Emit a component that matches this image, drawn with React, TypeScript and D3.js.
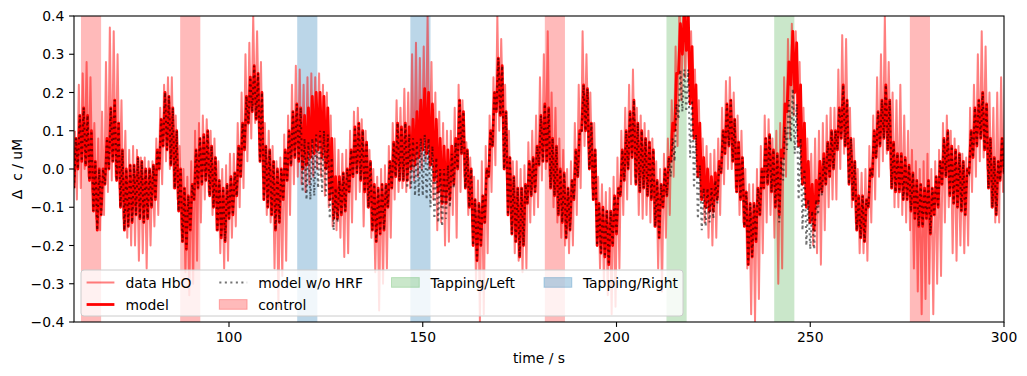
import React from 'react';
import * as d3 from 'd3';

// per-second samples starting at t = 60 s (upper / lower excursion of each cardiac cycle)
const T0 = 60;
const modelHi = [
  0.08, 0.14, 0.16, 0.14, 0.10, 0.02, 0.00, 0.00, 0.08, 0.16,
  0.18, 0.12, 0.05, 0.00, 0.01, 0.01, 0.03, 0.02, 0.00, 0.00,
  0.01, 0.05, 0.13, 0.20, 0.19, 0.16, 0.10, 0.00, -0.05, -0.07,
  -0.04, 0.05, 0.08, 0.09, 0.10, 0.06, 0.03, -0.03, -0.05, -0.04,
  -0.02, -0.01, 0.06, 0.12, 0.19, 0.24, 0.27, 0.25, 0.20, 0.06,
  0.05, 0.02, 0.00, 0.00, 0.05, 0.10, 0.15, 0.17, 0.16, 0.14,
  0.16, 0.19, 0.20, 0.20, 0.19, 0.16, 0.08, -0.02, -0.02, -0.01,
  0.00, 0.05, 0.11, 0.12, 0.10, 0.07, 0.02, -0.04, -0.05, -0.04,
  -0.04, 0.02, 0.07, 0.12, 0.11, 0.12, 0.11, 0.13, 0.15, 0.18,
  0.21, 0.20, 0.17, 0.13, 0.08, 0.06, 0.05, 0.06, 0.08, 0.18,
  0.15, 0.05, 0.00, -0.08, -0.09, -0.07, 0.00, 0.10, 0.20, 0.29,
  0.27, 0.15, 0.03, -0.02, -0.05, -0.05, -0.04, 0.02, 0.03, 0.06,
  0.14, 0.17, 0.16, 0.08, 0.06, 0.00, -0.01, -0.05, -0.03, 0.05,
  0.10, 0.22, 0.21, 0.12, 0.05, -0.09, -0.10, -0.11, -0.11, -0.07,
  -0.05, 0.05, 0.10, 0.15, 0.18, 0.12, 0.10, 0.08, 0.07, 0.05,
  -0.03, -0.04, 0.00, 0.03, 0.12, 0.25, 0.38, 0.41, 0.42, 0.32,
  0.22, 0.12, 0.03, 0.00, -0.02, -0.01, 0.02, 0.10, 0.17, 0.18,
  0.13, 0.07, 0.03, -0.06, -0.09, -0.09, -0.05, 0.00, 0.08, 0.09,
  0.05, 0.04, 0.05, 0.17, 0.28, 0.36, 0.33, 0.22, 0.12, 0.02,
  -0.04, -0.03, 0.02, 0.04, 0.07, 0.10, 0.10, 0.16, 0.22, 0.18,
  0.08, 0.02, -0.07, -0.07, -0.08, 0.00, 0.10, 0.15, 0.18, 0.22,
  0.18, 0.07, 0.04, 0.04, 0.03, 0.01, -0.01, -0.03, -0.04, -0.05,
  -0.03, -0.05, -0.02, 0.02, 0.08, 0.10, 0.06, 0.05, 0.04, 0.02,
  0.00, 0.10, 0.16, 0.18, 0.20, 0.17, 0.08, 0.03, 0.02, 0.08,
  0.09
];
const modelLo = [
  -0.05, 0.00, 0.02, 0.01, -0.03, -0.11, -0.16, -0.12, -0.04, 0.00,
  0.02, -0.03, -0.10, -0.16, -0.15, -0.14, -0.12, -0.13, -0.14, -0.13,
  -0.10, -0.08, 0.00, 0.06, 0.05, 0.01, -0.05, -0.11, -0.19, -0.21,
  -0.16, -0.08, -0.05, -0.04, -0.03, -0.07, -0.10, -0.16, -0.18, -0.19,
  -0.13, -0.12, -0.07, -0.02, 0.05, 0.12, 0.15, 0.13, 0.02, -0.08,
  -0.10, -0.12, -0.16, -0.14, -0.08, -0.03, 0.01, 0.03, 0.02, 0.00,
  0.01, 0.03, 0.04, 0.05, 0.03, 0.00, -0.08, -0.13, -0.13, -0.12,
  -0.11, -0.06, -0.02, -0.01, -0.03, -0.06, -0.10, -0.16, -0.19, -0.17,
  -0.16, -0.10, -0.05, -0.02, -0.03, -0.03, -0.03, 0.00, 0.01, 0.03,
  0.05, 0.04, 0.01, -0.03, -0.06, -0.09, -0.09, -0.08, -0.04, 0.00,
  0.04, -0.05, -0.10, -0.20, -0.24, -0.20, -0.14, -0.02, 0.06, 0.15,
  0.14, 0.00, -0.12, -0.17, -0.19, -0.23, -0.20, -0.09, -0.07, -0.06,
  0.01, 0.02, 0.02, -0.05, -0.07, -0.12, -0.14, -0.18, -0.16, -0.08,
  -0.02, 0.10, 0.10, 0.00, -0.08, -0.20, -0.22, -0.23, -0.25, -0.20,
  -0.17, -0.07, -0.03, 0.00, 0.03, -0.04, -0.06, -0.05, -0.07, -0.08,
  -0.15, -0.18, -0.10, -0.07, 0.02, 0.10, 0.25, 0.30, 0.31, 0.17,
  0.08, -0.02, -0.08, -0.10, -0.11, -0.11, -0.08, -0.01, 0.04, 0.06,
  0.02, -0.06, -0.08, -0.15, -0.25, -0.23, -0.19, -0.12, -0.05, -0.04,
  -0.06, -0.10, -0.12, 0.03, 0.15, 0.22, 0.20, 0.06, -0.04, -0.10,
  -0.14, -0.16, -0.09, -0.06, -0.04, -0.02, 0.00, 0.05, 0.08, 0.06,
  -0.04, -0.08, -0.16, -0.18, -0.19, -0.10, -0.02, 0.03, 0.06, 0.08,
  0.05, -0.05, -0.06, -0.06, -0.08, -0.08, -0.11, -0.13, -0.15, -0.15,
  -0.13, -0.17, -0.12, -0.10, -0.04, -0.02, -0.07, -0.09, -0.10, -0.11,
  -0.12, -0.01, 0.03, 0.06, 0.08, 0.05, -0.05, -0.10, -0.12, -0.03,
  -0.01
];
const dataHi = [
  0.10, 0.22, 0.25, 0.28, 0.24, 0.12, 0.08, 0.15, 0.28, 0.37,
  0.36, 0.30, 0.18, 0.10, 0.05, 0.06, 0.05, 0.03, 0.03, 0.02,
  0.02, 0.08, 0.16, 0.22, 0.24, 0.24, 0.14, 0.06, 0.00, -0.02,
  0.02, 0.10, 0.12, 0.14, 0.13, 0.10, 0.08, 0.02, 0.00, 0.01,
  0.04, 0.04, 0.12, 0.20, 0.30, 0.33, 0.40, 0.36, 0.28, 0.12,
  0.10, 0.06, 0.02, 0.03, 0.09, 0.14, 0.22, 0.27, 0.26, 0.22,
  0.24, 0.25, 0.24, 0.25, 0.22, 0.20, 0.14, 0.08, 0.05, 0.04,
  0.05, 0.10, 0.15, 0.16, 0.13, 0.10, 0.05, 0.00, -0.02, 0.00,
  0.01, 0.06, 0.12, 0.18, 0.16, 0.21, 0.20, 0.30, 0.33, 0.29,
  0.32, 0.40, 0.28, 0.20, 0.15, 0.12, 0.10, 0.10, 0.16, 0.22,
  0.18, 0.07, 0.03, -0.02, -0.03, 0.02, 0.06, 0.14, 0.24, 0.40,
  0.34, 0.22, 0.10, 0.02, 0.02, 0.00, 0.01, 0.07, 0.10, 0.14,
  0.24, 0.30, 0.36, 0.20, 0.16, 0.08, 0.05, 0.00, 0.02, 0.12,
  0.22, 0.36, 0.30, 0.20, 0.12, -0.02, -0.04, -0.06, -0.05, -0.02,
  0.03, 0.10, 0.16, 0.22, 0.26, 0.16, 0.14, 0.12, 0.10, 0.08,
  0.02, 0.00, 0.04, 0.08, 0.18, 0.32, 0.45, 0.45, 0.44, 0.36,
  0.26, 0.18, 0.08, 0.06, 0.04, 0.05, 0.08, 0.16, 0.23, 0.24,
  0.20, 0.14, 0.10, 0.00, -0.04, -0.04, 0.00, 0.06, 0.14, 0.13,
  0.08, 0.10, 0.12, 0.24, 0.34, 0.38, 0.36, 0.28, 0.16, 0.08,
  0.04, 0.08, 0.10, 0.12, 0.14, 0.16, 0.16, 0.26, 0.35, 0.34,
  0.16, 0.08, 0.00, -0.01, 0.00, 0.06, 0.14, 0.24, 0.30, 0.40,
  0.28, 0.20, 0.18, 0.22, 0.14, 0.10, 0.05, 0.02, 0.00, 0.02,
  0.04, 0.00, 0.02, 0.05, 0.12, 0.14, 0.10, 0.08, 0.06, 0.04,
  0.03, 0.16, 0.22, 0.30, 0.36, 0.32, 0.20, 0.16, 0.20, 0.24,
  0.22
];
const dataLo = [
  -0.08, -0.05, 0.00, -0.02, -0.06, -0.13, -0.16, -0.12, -0.06, -0.03,
  -0.02, -0.05, -0.13, -0.18, -0.20, -0.20, -0.24, -0.22, -0.26, -0.20,
  -0.15, -0.12, -0.04, 0.02, 0.00, -0.05, -0.08, -0.16, -0.27, -0.33,
  -0.30, -0.24, -0.14, -0.08, -0.06, -0.12, -0.16, -0.22, -0.26, -0.24,
  -0.18, -0.15, -0.10, -0.05, 0.02, 0.08, 0.12, 0.10, -0.02, -0.12,
  -0.14, -0.26, -0.36, -0.28, -0.24, -0.12, -0.04, -0.02, -0.04, -0.06,
  -0.04, -0.02, 0.00, -0.02, -0.07, -0.10, -0.15, -0.16, -0.18, -0.23,
  -0.22, -0.14, -0.08, -0.06, -0.15, -0.10, -0.18, -0.27, -0.37, -0.30,
  -0.26, -0.18, -0.08, -0.06, -0.05, -0.06, -0.05, -0.03, -0.02, 0.00,
  0.02, 0.00, -0.08, -0.16, -0.14, -0.20, -0.19, -0.12, -0.18, -0.06,
  -0.02, -0.12, -0.14, -0.30, -0.40, -0.38, -0.22, -0.06, 0.01, 0.10,
  0.11, -0.04, -0.14, -0.22, -0.24, -0.27, -0.26, -0.14, -0.12, -0.10,
  -0.03, 0.00, -0.02, -0.10, -0.14, -0.18, -0.20, -0.22, -0.20, -0.12,
  -0.05, 0.06, 0.06, -0.05, -0.12, -0.26, -0.30, -0.33, -0.38, -0.36,
  -0.26, -0.12, -0.08, -0.04, -0.02, -0.12, -0.13, -0.12, -0.14, -0.15,
  -0.26, -0.32, -0.18, -0.12, -0.02, 0.06, 0.18, 0.24, 0.22, 0.10,
  0.02, -0.08, -0.14, -0.18, -0.20, -0.18, -0.12, -0.04, 0.00, 0.00,
  -0.05, -0.12, -0.14, -0.26, -0.38, -0.40, -0.34, -0.22, -0.14, -0.12,
  -0.18, -0.30, -0.26, -0.02, 0.08, 0.14, 0.12, -0.02, -0.08, -0.14,
  -0.20, -0.22, -0.25, -0.16, -0.10, -0.08, -0.08, 0.00, 0.04, 0.02,
  -0.10, -0.14, -0.22, -0.22, -0.24, -0.14, -0.08, -0.02, 0.02, 0.04,
  0.00, -0.10, -0.10, -0.12, -0.14, -0.16, -0.26, -0.32, -0.38, -0.34,
  -0.30, -0.38, -0.30, -0.28, -0.14, -0.10, -0.22, -0.24, -0.20, -0.22,
  -0.20, -0.06, -0.02, 0.02, 0.03, 0.00, -0.10, -0.14, -0.14, -0.06,
  -0.08
];

// difference between the model and the model without HRF, per second, in the four tapping windows
const hrfStarts = [118, 146, 213, 241];
const hrfRight1 = [0.00, 0.06, 0.09, 0.11, 0.11, 0.10, 0.09, 0.07, 0.05, 0.03, 0.01];
const hrfRight2 = [0.02, 0.05, 0.08, 0.10, 0.12, 0.12, 0.11, 0.10, 0.08, 0.06, 0.04, 0.02, 0.01];
const hrfLeft1 = [0.00, 0.04, 0.08, 0.12, 0.15, 0.16, 0.14, 0.13, 0.11, 0.08, 0.05, 0.03, 0.02, 0.01];
const hrfLeft2 = [0.00, 0.02, 0.06, 0.10, 0.15, 0.16, 0.14, 0.12, 0.10, 0.07, 0.05, 0.03, 0.01];

const controlSpans = [[61.8, 67.0], [87.4, 92.6], [181.5, 186.7], [275.7, 280.9]];
const tapLeftSpans = [[212.9, 218.1], [240.7, 245.9]];
const tapRightSpans = [[117.6, 122.8], [146.8, 152.0]];

const xTicks = [100, 150, 200, 250, 300];
const yTicks = [-0.4, -0.3, -0.2, -0.1, 0.0, 0.1, 0.2, 0.3, 0.4];

const W = 1027;
const H = 376;
const L = 74, R = 1004, TOP = 16, BOT = 322;
const FONT = "'DejaVu Sans', sans-serif";
const FS = 13.9;

export default function App() {
  const x = d3.scaleLinear().domain([60, 300]).range([L, R]);
  const y = d3.scaleLinear().domain([-0.4, 0.4]).range([BOT, TOP]);

  const hrfSegs = [hrfRight1, hrfRight2, hrfLeft1, hrfLeft2];
  const offset = new Map<number, number>();
  hrfSegs.forEach((seg, k) => seg.forEach((v, j) => offset.set(hrfStarts[k] + j, v)));

  const modelPts: [number, number][] = [];
  const noHrfPts: [number, number][] = [];
  const dataPts: [number, number][] = [];
  modelHi.forEach((hi, i) => {
    const t = T0 + i;
    const lo = modelLo[i];
    const o = offset.get(t) ?? 0;
    modelPts.push([t, lo], [t + 0.5, hi]);
    noHrfPts.push([t, lo - o], [t + 0.5, hi - o]);
    dataPts.push([t + 0.25, dataHi[i]], [t + 0.75, dataLo[i]]);
  });

  const line = d3.line<[number, number]>().x(d => x(d[0])).y(d => y(d[1]));
  const fmt = (v: number) => (v < 0 ? '\u2212' : '') + Math.abs(v).toFixed(1);

  const spans = [
    ...controlSpans.map(s => ({ s, c: 'red', o: 0.27 })),
    ...tapLeftSpans.map(s => ({ s, c: '#2ca02c', o: 0.25 })),
    ...tapRightSpans.map(s => ({ s, c: '#1f77b4', o: 0.3 })),
  ];

  // legend geometry
  const lgX = 81, lgY = 270, lgW = 602, lgH = 46;
  const row1 = 282.5, row2 = 304.5;
  const hx = [86.6, 219.3, 391.5, 544];
  const hl = 27.8;
  const tx = (i: number) => hx[i] + hl + 11.1;

  return (
    <svg width={W} height={H} style={{ position: 'absolute', left: 0, top: 0, background: '#fff' }}
      fontFamily={FONT}>
      <defs>
        <clipPath id="plot"><rect x={L} y={TOP} width={R - L} height={BOT - TOP} /></clipPath>
      </defs>
      <rect x={0} y={0} width={W} height={H} fill="#fff" />
      <g clipPath="url(#plot)">
        {spans.map((d, i) => (
          <rect key={i} x={x(d.s[0])} y={TOP} width={x(d.s[1]) - x(d.s[0])} height={BOT - TOP}
            fill={d.c} fillOpacity={d.o} />
        ))}
        <path d={line(dataPts) || ''} fill="none" stroke="red" strokeOpacity={0.5} strokeWidth={2} strokeLinejoin="round" />
        <path d={line(modelPts) || ''} fill="none" stroke="red" strokeWidth={2.8} strokeLinejoin="round" />
        <path d={line(noHrfPts) || ''} fill="none" stroke="#000" strokeOpacity={0.55} strokeWidth={2.08}
          strokeDasharray="2.08 3.43" />
      </g>
      <rect x={L} y={TOP} width={R - L} height={BOT - TOP} fill="none" stroke="#000" strokeWidth={1.1} />
      {xTicks.map(t => (
        <g key={t}>
          <line x1={x(t)} x2={x(t)} y1={BOT} y2={BOT + 4.9} stroke="#000" strokeWidth={1.1} />
          <text x={x(t)} y={BOT + 20} fontSize={FS} textAnchor="middle">{t}</text>
        </g>
      ))}
      {yTicks.map(t => (
        <g key={t}>
          <line x1={L - 4.9} x2={L} y1={y(t)} y2={y(t)} stroke="#000" strokeWidth={1.1} />
          <text x={L - 9.7} y={y(t)} dy="0.36em" fontSize={FS} textAnchor="end">{fmt(t)}</text>
        </g>
      ))}
      <text x={(L + R) / 2} y={363} fontSize={FS} textAnchor="middle">time / s</text>
      <text transform={`translate(22,${(TOP + BOT) / 2}) rotate(-90)`} fontSize={FS} textAnchor="middle"
        style={{ whiteSpace: 'pre' }}>{'\u0394  c / uM'}</text>

      <g>
        <rect x={lgX} y={lgY} width={lgW} height={lgH} rx={3} fill="#fff" fillOpacity={0.8} stroke="#ccc" strokeWidth={1} />
        <line x1={hx[0]} x2={hx[0] + hl} y1={row1} y2={row1} stroke="red" strokeOpacity={0.5} strokeWidth={2} />
        <text x={tx(0)} y={row1} dy="0.36em" fontSize={FS}>data HbO</text>
        <line x1={hx[0]} x2={hx[0] + hl} y1={row2} y2={row2} stroke="red" strokeWidth={2.8} />
        <text x={tx(0)} y={row2} dy="0.36em" fontSize={FS}>model</text>
        <line x1={hx[1]} x2={hx[1] + hl} y1={row1} y2={row1} stroke="#000" strokeOpacity={0.55} strokeWidth={2.08} strokeDasharray="2.08 3.43" />
        <text x={tx(1)} y={row1} dy="0.36em" fontSize={FS}>model w/o HRF</text>
        <rect x={hx[1]} y={row2 - 4.9} width={hl} height={9.7} fill="red" fillOpacity={0.27} stroke="red" strokeOpacity={0.27} />
        <text x={tx(1)} y={row2} dy="0.36em" fontSize={FS}>control</text>
        <rect x={hx[2]} y={row1 - 4.9} width={hl} height={9.7} fill="#2ca02c" fillOpacity={0.25} stroke="#2ca02c" strokeOpacity={0.25} />
        <text x={tx(2)} y={row1} dy="0.36em" fontSize={FS}>Tapping/Left</text>
        <rect x={hx[3]} y={row1 - 4.9} width={hl} height={9.7} fill="#1f77b4" fillOpacity={0.3} stroke="#1f77b4" strokeOpacity={0.3} />
        <text x={tx(3)} y={row1} dy="0.36em" fontSize={FS}>Tapping/Right</text>
      </g>
    </svg>
  );
}
